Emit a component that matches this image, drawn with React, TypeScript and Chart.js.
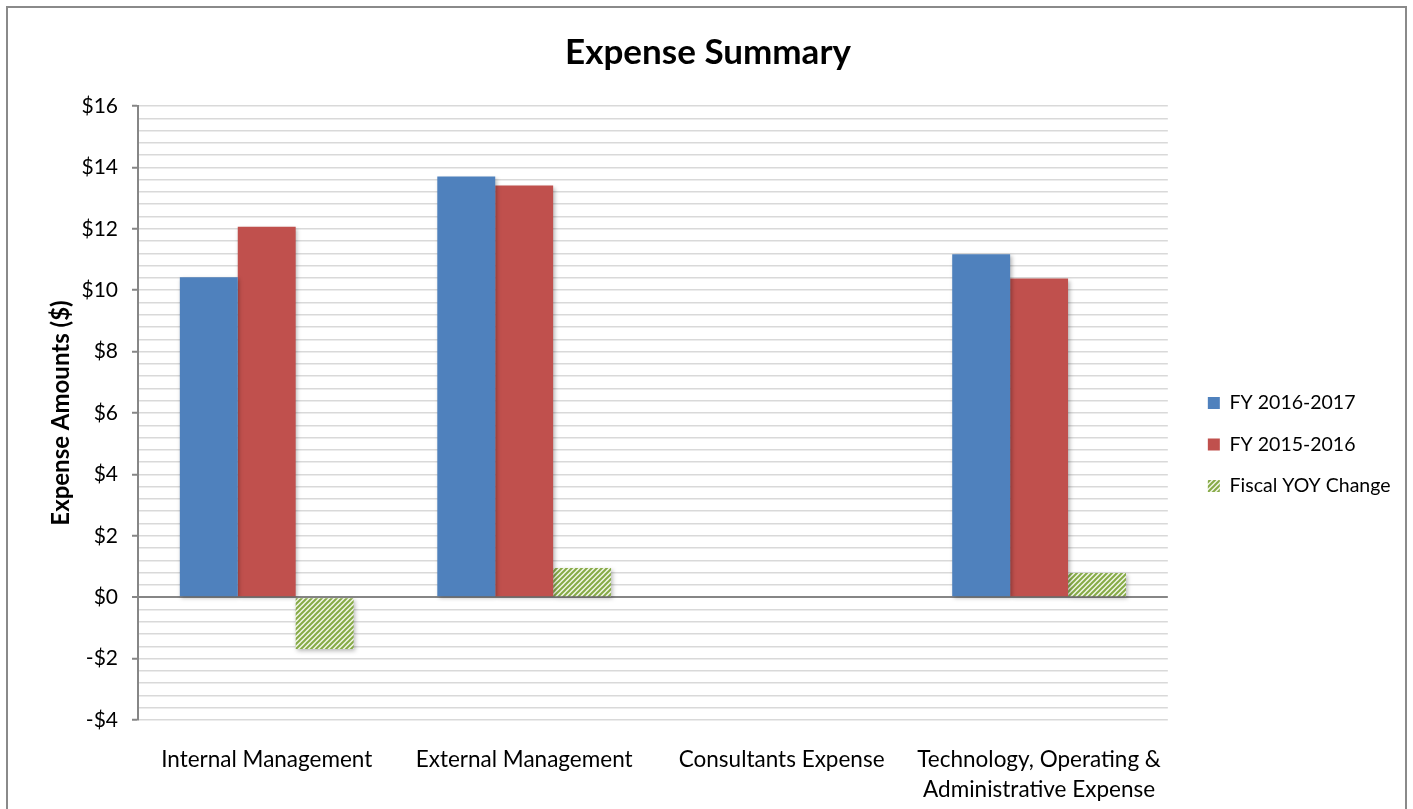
import React, { useEffect, useRef } from "react";
import { Chart, registerables } from "chart.js";

Chart.register(...registerables);

const categories: (string | string[])[] = [
  "Internal Management",
  "External Management",
  "Consultants Expense",
  ["Technology, Operating &", "Administrative Expense"],
];
const seriesNames = ["FY 2016-2017", "FY 2015-2016", "Fiscal YOY Change"];
const fy2017 = [10.42, 13.7, 0, 11.17];
const fy2016 = [12.07, 13.41, 0, 10.38];
const yoyChange = [-1.69, 0.95, 0, 0.79];
const yMin = -4;
const yMax = 16;
const yStep = 0.4;
const yLabelStep = 2;

const FONT = "Lato";

function makeStripePattern(): CanvasPattern | string {
  const s = 5;
  const c = document.createElement("canvas");
  c.width = s;
  c.height = s;
  const g = c.getContext("2d");
  if (!g) return "#9BBB59";
  g.fillStyle = "#F1F6E6";
  g.fillRect(0, 0, s, s);
  g.strokeStyle = "#86AA47";
  g.lineWidth = 2;
  g.beginPath();
  g.moveTo(-1, s + 1);
  g.lineTo(s + 1, -1);
  g.moveTo(-1, 1);
  g.lineTo(1, -1);
  g.moveTo(s - 1, s + 1);
  g.lineTo(s + 1, s - 1);
  g.stroke();
  const p = g.createPattern(c, "repeat");
  return p || "#9BBB59";
}

const borderPlugin = {
  id: "outerBorder",
  afterDraw(chart: any) {
    const ctx = chart.ctx;
    ctx.save();
    ctx.strokeStyle = "#8A8A8A";
    ctx.lineWidth = 2;
    ctx.strokeRect(7, 7, chart.width - 14, chart.height + 20);
    ctx.restore();
  },
};

const shadowPlugin = {
  id: "barShadow",
  beforeDatasetsDraw(chart: any) {
    const ctx = chart.ctx;
    ctx.save();
    ctx.shadowColor = "rgba(0,0,0,0.28)";
    ctx.shadowBlur = 4;
    ctx.shadowOffsetX = 1.5;
    ctx.shadowOffsetY = 2;
  },
  afterDatasetsDraw(chart: any) {
    chart.ctx.restore();
  },
};

export default function App() {
  const ref = useRef<HTMLCanvasElement | null>(null);

  useEffect(() => {
    document.body.style.margin = "0";
    const canvas = ref.current;
    if (!canvas) return;
    const stripes = makeStripePattern();
    const chart = new Chart(canvas, {
      type: "bar",
      data: {
        labels: categories,
        datasets: [
          { label: seriesNames[0], data: fy2017, backgroundColor: "#4F81BD" },
          { label: seriesNames[1], data: fy2016, backgroundColor: "#C0504D" },
          { label: seriesNames[2], data: yoyChange, backgroundColor: stripes as any },
        ],
      },
      options: {
        responsive: false,
        animation: false,
        events: [],
        layout: { padding: { left: 15.5, top: 10, right: 12.5, bottom: 0 } },
        datasets: {
          bar: { categoryPercentage: 0.675, barPercentage: 1.0, borderWidth: 0 },
        },
        plugins: {
          title: {
            display: true,
            text: "Expense Summary",
            color: "#000",
            font: { family: FONT, size: 35, weight: "bold" },
            padding: { top: 22, bottom: 32 },
          },
          legend: {
            position: "right",
            align: "center",
            title: {
              display: true,
              text: " ",
              font: { family: FONT, size: 12 },
              padding: { top: 27.8, bottom: 27.8 },
            },
            labels: {
              color: "#000",
              font: { family: FONT, size: 19.5 },
              boxWidth: 12,
              boxHeight: 12,
              padding: 22,
            },
          },
          tooltip: { enabled: false },
        },
        scales: {
          x: {
            grid: { display: false },
            border: { display: false },
            ticks: {
              color: "#000",
              font: { family: FONT, size: 22.5, lineHeight: 1.333 },
              padding: 17,
              maxRotation: 0,
              autoSkip: false,
            },
            afterFit(scale: any) {
              scale.height = 89;
            },
          },
          y: {
            min: yMin,
            max: yMax,
            title: {
              display: true,
              text: "Expense Amounts ($)",
              color: "#000",
              font: { family: FONT, size: 24, weight: "bold" },
              padding: { top: 31.1, bottom: 0 },
            },
            grid: {
              color: (ctx: any) =>
                ctx.tick && Math.abs(ctx.tick.value) < 1e-6 ? "#868686" : "#D9D9D9",
              lineWidth: (ctx: any) =>
                ctx.tick && Math.abs(ctx.tick.value) < 1e-6 ? 2 : 1.5,
              tickLength: 6,
              tickColor: (ctx: any) => {
                const v = ctx.tick ? ctx.tick.value : 1;
                const r = Math.abs(v / yLabelStep - Math.round(v / yLabelStep));
                return r < 1e-6 ? "#868686" : "rgba(0,0,0,0)";
              },
              tickWidth: 2,
            },
            border: { display: true, color: "#868686", width: 2 },
            ticks: {
              stepSize: yStep,
              autoSkip: false,
              color: "#000",
              padding: 14,
              font: { family: FONT, size: 21 },
              callback: (value: any) => {
                const v = Number(value);
                const r = Math.abs(v / yLabelStep - Math.round(v / yLabelStep));
                if (r > 1e-6) return "";
                const n = Math.round(v);
                return n < 0 ? "-$" + Math.abs(n) : "$" + n;
              },
            },
            afterFit(scale: any) {
              scale.width = 122.5;
            },
          },
          gap: {
            type: "linear",
            position: "right",
            min: 0,
            max: 1,
            grid: { display: false, drawTicks: false },
            border: { display: false },
            ticks: { display: false },
            afterFit(scale: any) {
              scale.width = 18;
            },
          },
        },
      },
      plugins: [shadowPlugin, borderPlugin],
    });
    return () => chart.destroy();
  }, []);

  return (
    <div style={{ width: 1413, height: 809, background: "#fff", overflow: "hidden" }}>
      <canvas ref={ref} width={1413} height={809} style={{ display: "block" }} />
    </div>
  );
}
